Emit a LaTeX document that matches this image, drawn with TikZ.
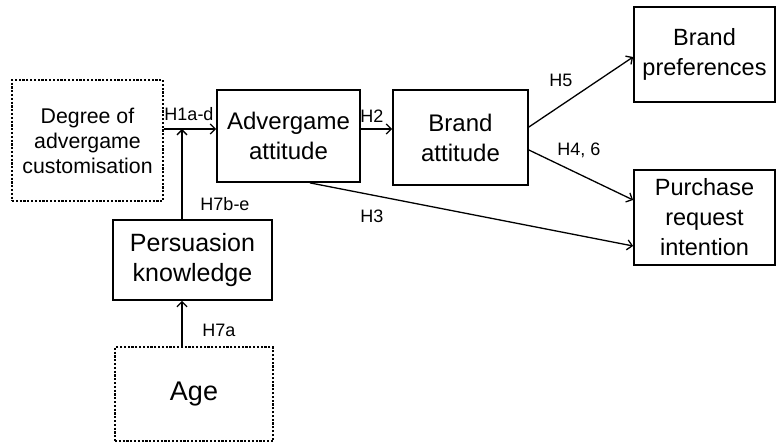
\documentclass[tikz,border=0pt]{standalone}
\usepackage{fontspec}
\setmainfont{Liberation Sans}
\usetikzlibrary{arrows.meta,calc}
\begin{document}
\begin{tikzpicture}[x=1pt,y=-1pt,
  box/.style={draw,line width=1.8pt,align=center,inner sep=0pt},
  dotbox/.style={draw,line width=2pt,dash pattern=on 2.2pt off 1.6pt,align=center,inner sep=0pt},
  link/.style={line width=1.3pt,-{Straight Barb[length=5pt,width=10pt,line width=1.3pt]}},
  hyp/.style={font=\fontsize{18}{20}\selectfont}]
\useasboundingbox (0,0) rectangle (777,443);

% constructs
\node[dotbox,minimum width=151pt,minimum height=121pt,font=\fontsize{21.3}{25}\selectfont]
  (deg) at (87.5,140.5) {Degree of\\advergame\\customisation};
\node[box,minimum width=143pt,minimum height=92pt,font=\fontsize{24}{30}\selectfont]
  (adv) at (288.5,136) {Advergame\\attitude};
\node[box,minimum width=135pt,minimum height=95pt,font=\fontsize{24}{30}\selectfont]
  (ba) at (460.5,137.5) {Brand\\attitude};
\node[box,minimum width=141pt,minimum height=95pt,font=\fontsize{23.5}{30}\selectfont]
  (bp) at (704.5,54.5) {Brand\\preferences\vphantom{p}};
\node[box,minimum width=141pt,minimum height=95pt,font=\fontsize{23.5}{30}\selectfont]
  (pr) at (704.5,217.5) {Purchase\\request\\intention};
\node[box,minimum width=159pt,minimum height=80pt,font=\fontsize{25}{30}\selectfont]
  (pk) at (192.5,260) {Persuasion\\knowledge};
\node[dotbox,minimum width=158pt,minimum height=94pt,font=\fontsize{27}{30}\selectfont]
  (age) at (194,394.5) {Age};

% moderation point on the H1 path
\coordinate (j) at (182,129);

% paths
\draw[link] (deg.east |- j) -- (adv.west |- j);
\draw[link] (pk.north -| j) -- (j);
\draw[link] (adv.east |- j) -- (ba.west |- j);
\draw[link] ($(ba.east)+(0,-10.5)$) -- ($(bp.west)+(0,2.5)$);
\draw[link] ($(ba.east)+(0,12.5)$) -- ($(pr.west)+(0,-17.5)$);
\draw[link] ($(adv.south)+(21.5,0)$) -- ($(pr.west)+(0,28.5)$);
\draw[link] (age.north -| j) -- (pk.south -| j);

% hypothesis labels
\node[hyp] (h1) at (189,114) {H1a-d};
\node[hyp] (h2) at (372,116) {H2};
\node[hyp] (h7be) at (225,204) {H7b-e};
\node[hyp] (h3) at (372,216) {H3};
\node[hyp] (h5) at (561,80) {H5};
\node[hyp] (h46) at (579,150) {H4, 6};
\node[hyp] (h7a) at (219,330) {H7a};
\end{tikzpicture}
\end{document}
